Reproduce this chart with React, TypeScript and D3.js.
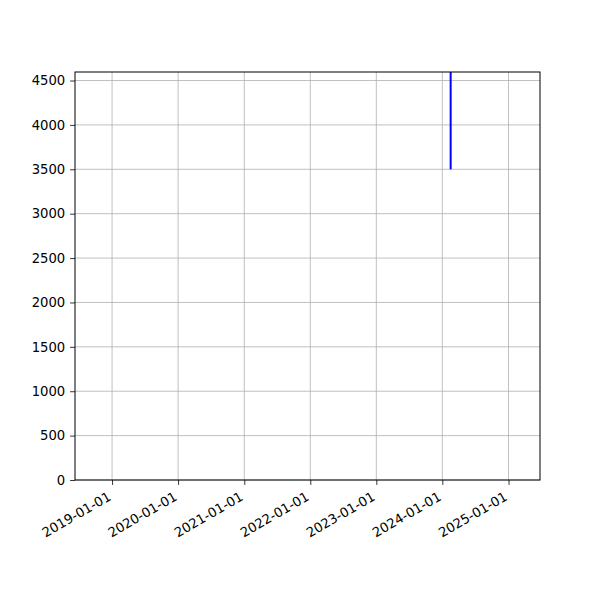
import * as d3 from 'd3'
import React, { useEffect, useRef } from 'react'

// one date, the line goes straight up from 3500 past the top of the axes
const dates = ['2024-02-16', '2024-02-16']
const values = [3500, 4800]
const xStart = '2018-06-10'
const xEnd = '2025-06-24'
const yMax = 4596
const yTicks = [0, 500, 1000, 1500, 2000, 2500, 3000, 3500, 4000, 4500]
const xTickYears = [2019, 2020, 2021, 2022, 2023, 2024, 2025]

const W = 600
const H = 600
const margin = { left: 75, right: 60, top: 72, bottom: 120 }
const font = 'DejaVu Sans, sans-serif'
const fs = 13.2

export default function App() {
    const svg = useRef<SVGSVGElement>(null)

    useEffect(() => {
        const root = d3.select(svg.current)
        root.selectAll('*').remove()
        const parse = d3.timeParse('%Y-%m-%d')
        const x = d3.scaleTime()
            .domain([parse(xStart)!, parse(xEnd)!])
            .range([margin.left, W - margin.right])
        const y = d3.scaleLinear()
            .domain([0, yMax])
            .range([H - margin.bottom, margin.top])
        const xTicks = xTickYears.map(yr => new Date(yr, 0, 1))

        root.append('rect').attr('width', W).attr('height', H).attr('fill', 'white')

        // grid
        const grid = root.append('g').attr('stroke', '#b0b0b0').attr('stroke-width', 0.8)
        grid.selectAll('line.gx').data(xTicks).join('line')
            .attr('x1', d => x(d)).attr('x2', d => x(d))
            .attr('y1', y(0)).attr('y2', y(yMax))
        grid.selectAll('line.gy').data(yTicks).join('line')
            .attr('class', 'gy')
            .attr('x1', x.range()[0]).attr('x2', x.range()[1])
            .attr('y1', d => y(d)).attr('y2', d => y(d))

        root.append('clipPath').attr('id', 'clip')
            .append('rect')
            .attr('x', margin.left).attr('y', margin.top)
            .attr('width', W - margin.left - margin.right)
            .attr('height', H - margin.top - margin.bottom)

        const line = d3.line<number>()
            .x((d, i) => x(parse(dates[i])!))
            .y(d => y(d))
        root.append('path')
            .attr('clip-path', 'url(#clip)')
            .attr('d', line(values))
            .attr('fill', 'none')
            .attr('stroke', 'blue')
            .attr('stroke-width', 2)

        // y axis
        const yAxis = root.append('g')
            .attr('transform', `translate(${margin.left},0)`)
            .call(d3.axisLeft(y).tickValues(yTicks).tickSize(4.9).tickPadding(4.9).tickFormat(d3.format('d')))
        yAxis.select('.domain').remove()
        yAxis.selectAll('text').attr('font-family', font).attr('font-size', fs).attr('fill', 'black')
        yAxis.selectAll('line').attr('stroke', 'black').attr('stroke-width', 0.8)

        // x axis
        const xAxis = root.append('g')
            .attr('transform', `translate(0,${H - margin.bottom})`)
            .call(d3.axisBottom(x).tickValues(xTicks).tickSize(4.9).tickFormat(d => d3.timeFormat('%Y-%m-%d')(d as Date)))
        xAxis.select('.domain').remove()
        xAxis.selectAll('line').attr('stroke', 'black').attr('stroke-width', 0.8)
        xAxis.selectAll('text')
            .attr('font-family', font).attr('font-size', fs).attr('fill', 'black')
            .attr('text-anchor', 'end')
            .attr('y', 0).attr('dy', '0.73em')
            .attr('transform', 'translate(-5.5,11) rotate(-30)')

        // frame
        root.append('rect')
            .attr('x', margin.left).attr('y', margin.top)
            .attr('width', W - margin.left - margin.right)
            .attr('height', H - margin.top - margin.bottom)
            .attr('fill', 'none').attr('stroke', 'black').attr('stroke-width', 1)
    }, [])

    return <svg ref={svg} width={W} height={H} style={{ display: 'block', margin: -8 }} />
}
